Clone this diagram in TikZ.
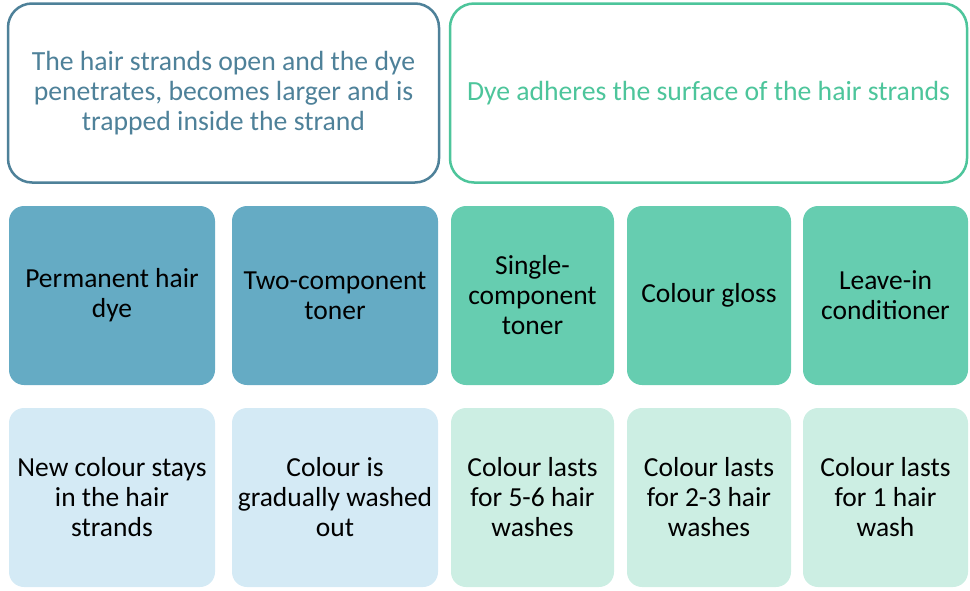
\documentclass[tikz,border=0pt]{standalone}
\usepackage{fontspec}
\setmainfont{Carlito}
\definecolor{topblue}{HTML}{4E8199}
\definecolor{topgreen}{HTML}{4DC59B}
\definecolor{midblue}{HTML}{65ABC4}
\definecolor{midgreen}{HTML}{66CDB0}
\definecolor{lowblue}{HTML}{D4EAF5}
\definecolor{lowgreen}{HTML}{CCEEE3}
\begin{document}
\begin{tikzpicture}[x=1pt,y=-1pt,
  headbox/.style={draw, line width=2.5pt, rounded corners=24pt, fill=white, align=center,
    font=\fontsize{27.7}{30}\selectfont, inner sep=0pt, minimum height=179pt},
  cellbox/.style={rounded corners=15pt, align=center, text=black,
    font=\fontsize{27.5}{30}\selectfont, inner sep=0pt, minimum height=179pt},
  ]
\useasboundingbox (0,0) rectangle (970,590);
\node[headbox, draw=topblue, text=topblue, minimum width=431pt] (hl) at (223.5,93)
  {The hair strands open and the dye\\penetrates, becomes larger and is\\trapped inside the strand};
\node[headbox, draw=topgreen, text=topgreen, minimum width=517pt] (hr) at (708.5,93)
  {Dye adheres the surface of the hair strands};
% middle row
\node[cellbox, fill=midblue, minimum width=206pt] (m1) at (112,295.5) {Permanent hair\\dye};
\node[cellbox, fill=midblue, minimum width=206pt] (m2) at (335,295.5) {Two-component\\toner};
\node[cellbox, fill=midgreen, minimum width=163pt] (m3) at (532.5,295.5) {Single-\\component\\toner};
\node[cellbox, fill=midgreen, minimum width=164pt] (m4) at (709,295.5) {Colour gloss};
\node[cellbox, fill=midgreen, minimum width=165pt] (m5) at (885.5,295.5) {Leave-in\\conditioner};
% bottom row
\node[cellbox, fill=lowblue, minimum width=206pt] (b1) at (112,497.5) {New colour stays\\in the hair\\strands};
\node[cellbox, fill=lowblue, minimum width=206pt] (b2) at (335,497.5) {Colour is\\gradually washed\\out};
\node[cellbox, fill=lowgreen, minimum width=163pt] (b3) at (532.5,497.5) {Colour lasts\\for 5-6 hair\\washes};
\node[cellbox, fill=lowgreen, minimum width=164pt] (b4) at (709,497.5) {Colour lasts\\for 2-3 hair\\washes};
\node[cellbox, fill=lowgreen, minimum width=165pt] (b5) at (885.5,497.5) {Colour lasts\\for 1 hair\\wash};
\end{tikzpicture}
\end{document}
